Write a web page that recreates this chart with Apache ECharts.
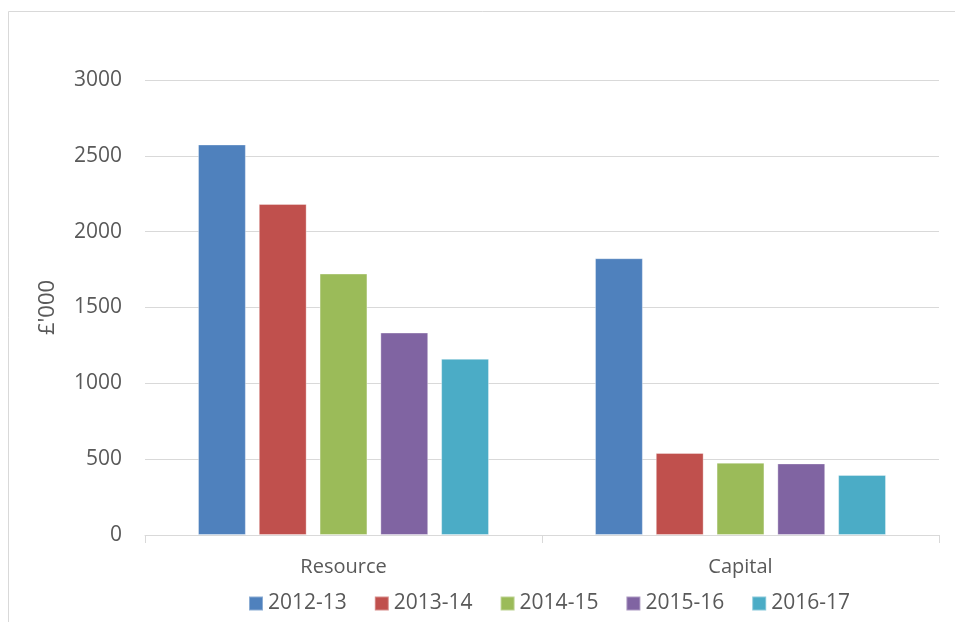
<!DOCTYPE html>
<html>
<head>
<meta charset="utf-8">
<script src="https://cdn.jsdelivr.net/npm/echarts@6/dist/echarts.min.js"></script>
<style>
  html, body { margin: 0; padding: 0; background: #fff; }
  #chart { width: 955px; height: 622px; }
</style>
</head>
<body>
<div id="chart"></div>
<script>
// data
const categories = ['Resource', 'Capital']
const years = ['2012-13', '2013-14', '2014-15', '2015-16', '2016-17']
const values2012 = [2575, 1825]
const values2013 = [2183, 541]
const values2014 = [1724, 477]
const values2015 = [1335, 472]
const values2016 = [1162, 396]
const yTicks = [0, 500, 1000, 1500, 2000, 2500, 3000]

const seriesValues = [values2012, values2013, values2014, values2015, values2016]
const colors = ['#4f81bd', '#c0504d', '#9bbb59', '#8064a2', '#4bacc6']
const fontFamily = '"Open Sans", "Liberation Sans", sans-serif'
const textColor = '#595959'

const chart = echarts.init(document.getElementById('chart'), null, { renderer: 'canvas' })

const option = {
  animation: false,
  backgroundColor: '#fff',
  color: colors,
  textStyle: { fontFamily },
  graphic: [
    {
      // chart area frame (only top + left edges visible)
      type: 'rect',
      shape: { x: 8.5, y: 11.5, width: 1000, height: 700 },
      style: { fill: 'none', stroke: '#d9d9d9', lineWidth: 1 },
      silent: true
    }
  ],
  grid: { left: 145, right: 16, top: 80, bottom: 87 },
  legend: {
    data: years,
    top: 588,
    left: 248,
    padding: [5, 0, 5, 0],
    itemWidth: 14,
    itemHeight: 14,
    itemGap: 27,
    icon: 'rect',
    textStyle: { color: textColor, fontSize: 21, fontFamily }
  },
  xAxis: {
    type: 'category',
    data: categories,
    axisLine: { lineStyle: { color: '#d9d9d9', width: 1 } },
    axisTick: { show: true, alignWithLabel: false, length: 8, lineStyle: { color: '#d9d9d9' } },
    axisLabel: { color: textColor, fontSize: 20, margin: 22 },
    splitLine: { show: false }
  },
  yAxis: {
    type: 'value',
    min: yTicks[0],
    max: yTicks[yTicks.length - 1],
    interval: 500,
    name: "£'000",
    nameLocation: 'middle',
    nameRotate: 90,
    nameGap: 86,
    nameTextStyle: { color: textColor, fontSize: 22 },
    axisLine: { show: false },
    axisTick: { show: false },
    axisLabel: { color: textColor, fontSize: 21, margin: 23, formatter: v => String(v) },
    splitLine: { lineStyle: { color: '#d9d9d9', width: 1 } }
  },
  series: years.map((y, i) => ({
    name: y,
    type: 'bar',
    data: seriesValues[i],
    barGap: '27%',
    barCategoryGap: '26.7%',
    itemStyle: {
      color: colors[i],
      borderColor: 'rgba(255,255,255,0.35)',
      borderWidth: 1
    }
  }))
}

chart.setOption(option)
</script>
</body>
</html>
